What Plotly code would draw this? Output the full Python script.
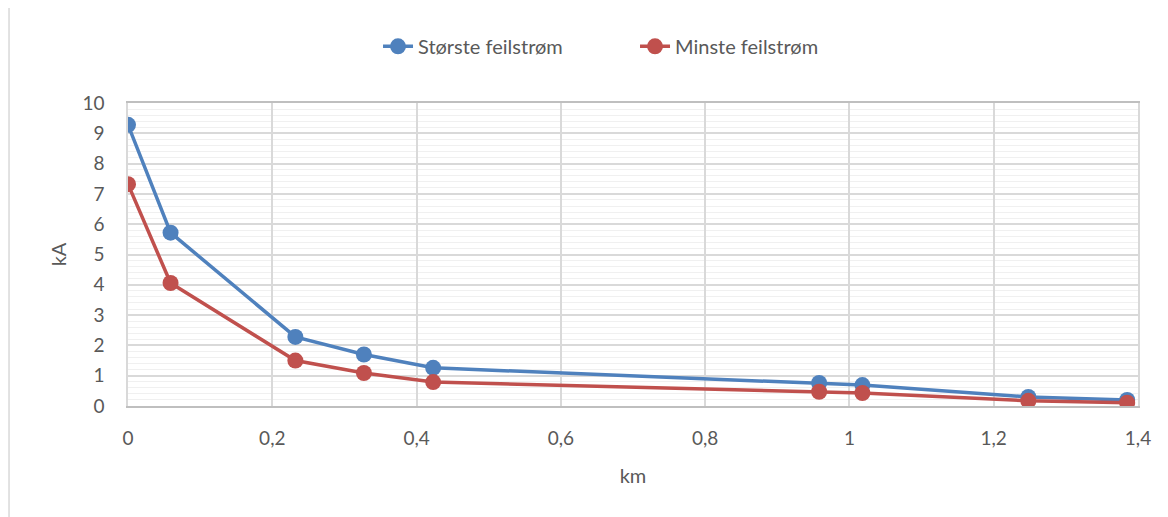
import plotly.graph_objects as go

km = [0, 0.059, 0.232, 0.327, 0.423, 0.958, 1.018, 1.248, 1.385]
storste = [9.28, 5.72, 2.28, 1.70, 1.26, 0.76, 0.69, 0.30, 0.20]
minste = [7.32, 4.06, 1.50, 1.09, 0.79, 0.47, 0.43, 0.17, 0.11]

font_fam = "Lato, 'Open Sans', sans-serif"
txt = "#595959"

fig = go.Figure()
fig.add_trace(go.Scatter(x=km, y=storste, name="Største feilstrøm", mode="lines+markers",
                         line=dict(color="#4F81BD", width=3.5), marker=dict(size=16, color="#4F81BD")))
fig.add_trace(go.Scatter(x=km, y=minste, name="Minste feilstrøm", mode="lines+markers",
                         line=dict(color="#C0504D", width=3.5), marker=dict(size=16, color="#C0504D")))

fig.update_layout(
    width=1168, height=517,
    margin=dict(l=120, r=38, t=95, b=119),
    paper_bgcolor="white", plot_bgcolor="white",
    separators=", ",
    font=dict(family=font_fam, color=txt, size=19),
    legend=dict(orientation="h", x=0.502, xanchor="center", y=1.187, yanchor="middle",
                font=dict(size=20, color=txt), entrywidth=212),
    xaxis=dict(range=[0, 1.4], dtick=0.2, showgrid=True, gridcolor="#d9d9d9", gridwidth=1.5,
               zeroline=False, showline=True, linecolor="#bfbfbf", linewidth=1.5, mirror=True,
               ticks="", tickfont=dict(size=19, color=txt), ticklabelstandoff=14,
               title=dict(text="km", font=dict(size=20, color=txt), standoff=21)),
    yaxis=dict(range=[0, 10], dtick=1, showgrid=True, gridcolor="#d9d9d9", gridwidth=1.5,
               minor=dict(dtick=0.2, showgrid=True, gridcolor="#f0f0f0", gridwidth=1),
               zeroline=False, showline=True, linecolor="#d9d9d9", linewidth=1.5, mirror=True,
               ticks="", tickfont=dict(size=19, color=txt), ticklabelstandoff=18,
               title=dict(text="kA", font=dict(size=20, color=txt), standoff=10)),
)
fig.add_shape(type="line", xref="paper", yref="paper", x0=-0.1178, x1=-0.1178, y0=-0.4, y1=1.33,
              line=dict(color="#d9d9d9", width=1.5))
fig.write_html("out.html")
